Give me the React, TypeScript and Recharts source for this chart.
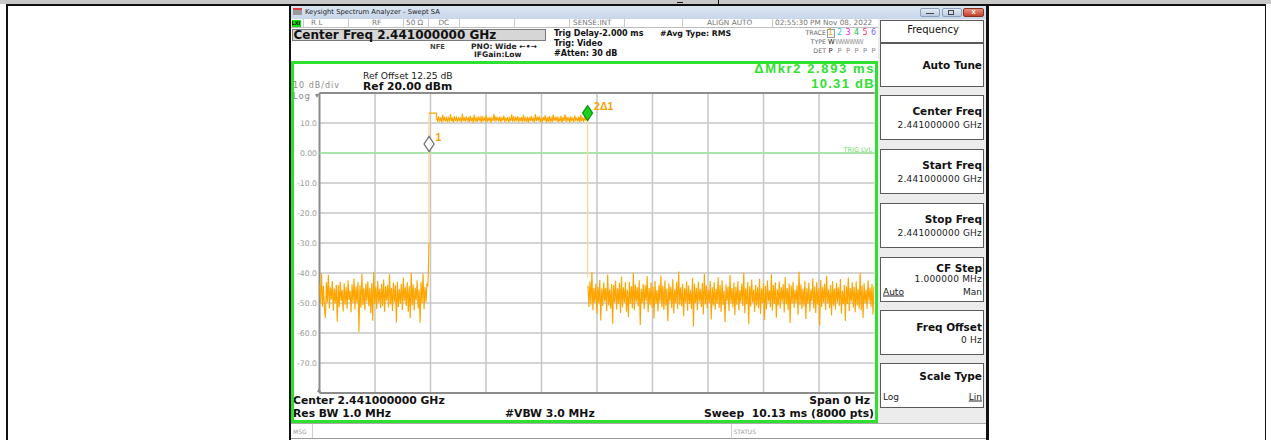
import React from "react";
import { LineChart, Line, XAxis, YAxis, CartesianGrid, ReferenceLine, ReferenceDot } from "recharts";

// ---------------- data ----------------
const SAMPLE_MS = 0.018;
const SWEEP_MS = 10.13;
const LEFT_START = 0;
const PLATEAU_START = 2.14;
const RIGHT_START = 4.9;

const LEFT_NOISE = [
  -43.6, -50.4, -40.1, -51.2, -44.3, -52.0, -54.9, -43.1, -49.7, -40.6,
  -51.8, -44.8, -48.9, -42.7, -52.6, -45.2, -50.1, -43.9, -56.2, -44.0,
  -51.4, -42.9, -49.3, -45.6, -52.8, -43.4, -50.6, -44.7, -51.9, -42.5,
  -49.0, -45.9, -53.1, -43.8, -50.0, -41.8, -52.2, -44.5, -49.8, -43.0,
  -59.6, -44.2, -51.6, -40.3, -50.7, -45.1, -52.4, -43.5, -49.5, -42.8,
  -51.1, -44.9, -53.4, -43.3, -55.9, -39.6, -50.3, -44.6, -52.0, -42.6,
  -49.9, -45.3, -51.7, -43.7, -50.9, -42.2, -52.9, -44.4, -49.2, -43.9,
  -51.5, -40.4, -50.5, -45.0, -52.7, -43.2, -49.6, -44.1, -56.5, -42.9,
  -51.3, -45.4, -50.2, -43.6, -52.3, -41.5, -49.4, -44.8, -51.0, -43.1,
  -53.0, -44.3, -55.1, -39.9, -50.8, -43.8, -52.5, -44.9, -49.1, -42.4,
  -51.8, -45.5, -56.6, -43.0, -50.0, -40.2, -52.1, -44.7, -49.7, -43.4,
];
const LEFT_TAIL: [number, number][] = [[1.978, -44.5], [1.988, -39.5], [1.997, -30]];
const OVERSHOOT: [number, number][] = [[1.9975, 13.3], [2.135, 13.3], [2.137, 11.2]];

const PLATEAU = [
  11.9, 10.4, 12.2, 10.7, 11.6, 10.2, 12.7, 10.9, 11.8, 10.5,
  12.1, 10.3, 11.7, 10.8, 12.9, 10.6, 11.5, 10.1, 12.3, 10.7,
  11.8, 10.4, 12.0, 10.9, 11.6, 10.2, 13.1, 10.6, 11.9, 10.5,
  12.2, 10.8, 11.7, 10.3, 12.4, 10.6, 11.8, 10.1, 12.8, 10.7,
  11.6, 10.4, 12.1, 10.9, 11.9, 10.2, 12.3, 10.5, 11.7, 10.8,
  12.6, 10.3, 11.8, 10.6, 12.0, 10.1, 11.6, 10.7, 13.0, 10.4,
  12.2, 10.9, 11.7, 10.5, 12.1, 10.2, 11.9, 10.8, 12.5, 10.3,
  11.8, 10.6, 12.0, 10.1, 11.6, 10.7, 12.9, 10.4, 12.2, 10.5,
  11.7, 10.9, 12.3, 10.2, 11.8, 10.6, 12.0, 10.3, 12.7, 10.8,
  11.6, 10.4, 12.1, 10.1, 11.9, 10.7, 12.4, 10.5, 11.7, 10.2,
  13.0, 10.6, 11.8, 10.9, 12.2, 10.3, 11.6, 10.5, 12.0, 10.8,
  12.6, 10.1, 11.9, 10.4, 12.3, 10.7, 11.7, 10.2, 12.8, 10.6,
  11.8, 10.9, 12.1, 10.3, 11.6, 10.5, 12.4, 10.1, 11.9, 10.7,
  12.9, 10.4, 12.0, 10.8, 11.7, 10.2, 12.2, 10.6, 11.8, 10.3,
  12.5, 10.9, 11.6, 10.5, 12.1, 10.2, 12.7, 10.6, 11.9, 10.4,
  12.3, 10.8, 12.0,
];
const PLATEAU_TAIL: [number, number][] = [[4.89, 11.9]];

const RIGHT_NOISE = [
  -44.2, -51.3, -42.8, -50.6, -39.7, -52.4, -45.0, -49.8, -43.5, -53.6,
  -44.6, -50.1, -42.3, -55.8, -45.2, -51.0, -43.1, -49.5, -44.9, -52.7,
  -40.5, -50.8, -45.4, -51.9, -43.7, -56.9, -44.0, -49.7, -42.6, -52.2,
  -45.1, -50.4, -43.3, -53.3, -41.2, -51.5, -44.8, -49.9, -43.0, -52.9,
  -45.6, -54.7, -42.9, -50.3, -44.4, -51.8, -39.9, -52.5, -43.8, -49.6,
  -44.7, -51.2, -42.4, -57.3, -45.3, -50.0, -43.6, -52.1, -44.1, -49.4,
  -41.0, -53.1, -45.0, -50.7, -43.2, -51.6, -44.5, -55.2, -42.7, -50.2,
  -45.7, -52.8, -43.9, -49.8, -40.8, -51.4, -44.3, -52.3, -42.5, -50.9,
  -45.2, -56.1, -43.4, -49.5, -44.6, -51.7, -42.1, -53.5, -45.5, -50.1,
  -43.0, -52.0, -39.5, -50.6, -44.8, -51.1, -43.7, -54.4, -45.1, -49.7,
  -42.8, -52.6, -44.2, -50.3, -45.8, -51.9, -41.6, -57.8, -43.5, -50.0,
  -44.9, -52.4, -42.9, -49.6, -45.4, -51.3, -43.3, -53.8, -40.2, -50.5,
  -44.1, -51.8, -45.6, -49.9, -42.6, -55.5, -44.7, -50.8, -43.1, -52.2,
  -45.3, -50.2, -41.4, -51.6, -44.0, -53.0, -42.4, -50.7, -45.9, -56.4,
  -43.8, -49.4, -44.5, -52.7, -40.7, -50.1, -45.0, -51.5, -43.2, -54.1,
  -44.6, -50.6, -42.7, -52.5, -45.7, -49.8, -43.6, -51.0, -39.8, -53.4,
  -45.1, -50.4, -43.0, -57.0, -44.4, -51.2, -42.2, -49.7, -45.5, -52.9,
  -43.9, -50.9, -44.8, -51.7, -41.9, -53.7, -45.2, -50.0, -43.4, -55.6,
  -44.3, -52.1, -42.5, -49.5, -45.8, -51.4, -40.4, -52.6, -44.0, -50.3,
  -43.1, -54.9, -45.4, -50.8, -42.8, -51.9, -44.7, -49.6, -43.7, -53.2,
  -41.3, -50.5, -45.0, -52.3, -43.5, -56.7, -44.2, -50.1, -42.9, -51.6,
  -45.6, -49.9, -44.1, -53.9, -39.6, -50.7, -43.8, -52.0, -45.3, -51.1,
  -42.6, -55.3, -44.9, -50.2, -43.2, -52.8, -45.7, -49.4, -41.8, -51.8,
  -44.5, -53.3, -43.0, -50.6, -45.1, -57.5, -42.3, -51.3, -44.6, -49.8,
  -43.6, -52.4, -40.9, -50.0, -45.5, -51.7, -44.0, -54.2, -42.7, -50.9,
  -45.2, -52.2, -43.3, -49.7, -44.8, -51.0, -42.0, -53.6, -45.9, -50.4,
  -43.9, -56.0, -44.4, -50.3, -41.5, -52.7, -45.0, -49.5, -43.1, -51.5,
  -44.7, -53.1, -42.8, -50.8, -45.4, -51.9, -39.9, -52.5, -44.2, -55.0,
  -43.4, -50.1, -45.6, -52.0, -42.4, -49.6, -44.9, -51.2, -43.7, -53.8,
  -44.5,
];

const EDGE_RISE: [number, number][] = [[1.997, -30], [1.9975, 13.3]];
const EDGE_FALL: [number, number][] = [[4.893, 11.9], [4.894, -41.5]];

const Y_TICKS = [10, 0, -10, -20, -30, -40, -50, -60, -70];
const Y_LABELS = ["10.0", "0.00", "-10.0", "-20.0", "-30.0", "-40.0", "-50.0", "-60.0", "-70.0"];
const X_DIVS = [1.013, 2.026, 3.039, 4.052, 5.065, 6.078, 7.091, 8.104, 9.117];
const MARKER_1 = { t: 2.0, v: 3.0, label: "1" };
const MARKER_2 = { t: 4.893, v: 13.31, label: "2\u03941" };

// ---------------- build series ----------------
type P = { t: number; v: number | null };
const pairs = (a: [number, number][]): P[] => a.map(([t, v]) => ({ t, v }));
const MAIN: P[] = [
  ...LEFT_NOISE.map((v, i) => ({ t: LEFT_START + i * SAMPLE_MS, v })),
  ...pairs(LEFT_TAIL),
  { t: 1.9972, v: null },
  ...pairs(OVERSHOOT),
  ...PLATEAU.map((v, i) => ({ t: PLATEAU_START + i * SAMPLE_MS, v })),
  ...pairs(PLATEAU_TAIL),
  { t: 4.895, v: null },
  ...RIGHT_NOISE.map((v, i) => ({ t: RIGHT_START + i * SAMPLE_MS, v })),
];
const RISE = pairs(EDGE_RISE);
const FALL = pairs(EDGE_FALL);

// ---------------- helpers ----------------
const DV = '"DejaVu Sans", sans-serif';
const LS = '"Liberation Sans", Arial, sans-serif';

type TP = {
  x: number; y: number; s: number; b?: boolean; c?: string; a?: "start" | "end" | "middle";
  f?: string; ls?: number; u?: boolean; children: React.ReactNode;
};
const T = ({ x, y, s, b, c = "#111", a = "start", f = DV, ls, u, children }: TP) => (
  <div
    style={{
      position: "absolute", left: x, top: y, fontSize: s, fontWeight: b ? "bold" : "normal",
      color: c, fontFamily: f, whiteSpace: "nowrap", lineHeight: 1, letterSpacing: ls,
      textDecoration: u ? "underline" : "none",
      transform: `translate(${a === "end" ? "-100%" : a === "middle" ? "-50%" : "0"}, -50%)`,
    }}
  >
    {children}
  </div>
);
const R = ({ x, y, w, h, bg, st }: { x: number; y: number; w: number; h: number; bg?: string; st?: React.CSSProperties }) => (
  <div style={{ position: "absolute", left: x, top: y, width: w, height: h, background: bg, boxSizing: "border-box", ...st }} />
);

const Diamond = (props: any) => {
  const { cx, cy, fill, stroke, label } = props;
  if (cx == null || cy == null) return null;
  return (
    <g>
      <polygon points={`${cx},${cy - 7.5} ${cx + 5},${cy} ${cx},${cy + 7.5} ${cx - 5},${cy}`} fill={fill} stroke={stroke} strokeWidth={1.3} />
      <text x={cx + 6.5} y={cy - 6} fill="#f5a000" fontSize={10.5} fontFamily={LS} fontWeight="bold" dominantBaseline="middle">
        {label}
      </text>
    </g>
  );
};

const YTick = (props: any) => {
  const { x, y, payload } = props;
  const i = Y_TICKS.indexOf(payload.value);
  return (
    <text x={x} y={y} textAnchor="end" dominantBaseline="central" fill="#9a9a9a" fontSize={7.7} fontFamily={DV}>
      {Y_LABELS[i]}
    </text>
  );
};

const SOFTKEYS = [
  { top: 95, label: "Center Freq", ly: 16, value: "2.441000000 GHz", vy: 30 },
  { top: 149, label: "Start Freq", ly: 16, value: "2.441000000 GHz", vy: 30 },
  { top: 203, label: "Stop Freq", ly: 16, value: "2.441000000 GHz", vy: 30 },
  { top: 257, label: "CF Step", ly: 11, value: "1.000000 MHz", vy: 22 },
  { top: 310, label: "Freq Offset", ly: 17, value: "0 Hz", vy: 30 },
  { top: 363, label: "Scale Type", ly: 13, value: "", vy: 0 },
];

const TRACE_NUMS = [
  { n: "1", c: "#f5a000", x: 829 },
  { n: "2", c: "#20c8f0", x: 838 },
  { n: "3", c: "#f020f0", x: 846.5 },
  { n: "4", c: "#20c840", x: 855 },
  { n: "5", c: "#ff3366", x: 863.5 },
  { n: "6", c: "#7a66ff", x: 872 },
];

const GREEN = "#2fe02f";

export default function App() {
  return (
    <div style={{ position: "absolute", left: 0, top: 0, width: 1271, height: 440, background: "#fff", overflow: "hidden", fontFamily: DV }}>
      {/* document table lines */}
      <R x={0} y={0} w={1271} h={4} bg="#c8c8c8" />
      <R x={677} y={1.5} w={6} h={1.5} bg="#111" />
      <R x={717.5} y={0} w={1.5} h={4} bg="#111" />
      <R x={6} y={4} w={1260} h={1.5} bg="#111" />
      <R x={6} y={4} w={1.5} h={436} bg="#111" />
      <R x={1264.5} y={4} w={1.5} h={436} bg="#111" />

      {/* screenshot black frame */}
      <R x={288.5} y={4} w={2.5} h={436} bg="#111" />
      <R x={985.5} y={4} w={3} h={436} bg="#111" />

      {/* title bar */}
      <R x={291} y={5.5} w={694.5} h={13} bg="linear-gradient(#dce6f3, #c7d6ea)" />
      <R x={292.5} y={8} w={9} h={7} bg="#9a9a9a" st={{ borderTop: "2px solid #d84040" }} />
      <T x={305} y={12.2} s={6.8} c="#222">Keysight Spectrum Analyzer - Swept SA</T>
      <R x={920} y={7.5} w={20} h={9} bg="linear-gradient(#e4ecf6,#b9cbe2)" st={{ border: "1px solid #8aa0bd", borderRadius: 2 }} />
      <R x={926} y={12.5} w={8} h={1.5} bg="#444" />
      <R x={941.5} y={7.5} w={20} h={9} bg="linear-gradient(#e4ecf6,#b9cbe2)" st={{ border: "1px solid #8aa0bd", borderRadius: 2 }} />
      <R x={948} y={9.5} w={6} h={5} st={{ border: "1px solid #444" }} />
      <R x={963} y={7.5} w={21} h={9} bg="linear-gradient(#e8907f,#c4402e)" st={{ border: "1px solid #8a3020", borderRadius: 2 }} />
      <T x={973.5} y={11.8} s={7.5} b c="#fff" a="middle" f={LS}>x</T>

      {/* status row */}
      <R x={291} y={18.5} w={586.5} h={9.5} bg="#fff" st={{ borderBottom: "1px solid #bdbdbd" }} />
      <R x={291.5} y={19.5} w={9} h={7.5} bg="#11dd11" />
      <T x={296} y={23.3} s={5} b c="#111" a="middle">LXI</T>
      {[303, 348, 403, 427.5, 459, 513.5, 569, 624, 682, 772].map((x) => (
        <R key={x} x={x} y={18.5} w={1} h={9.5} bg="#c8c8c8" />
      ))}
      <T x={311} y={23.3} s={7.3} c="#777">R L</T>
      <T x={372} y={23.3} s={7.3} c="#777">RF</T>
      <T x={406} y={23.3} s={7.3} c="#777">50 Ω</T>
      <T x={438.5} y={23.3} s={7.3} c="#777">DC</T>
      <T x={573} y={23.3} s={7.3} c="#777">SENSE:INT</T>
      <T x={707} y={23.3} s={7.3} c="#777">ALIGN AUTO</T>
      <T x={775} y={23.3} s={7.3} c="#777">02:55:30 PM Nov 08, 2022</T>

      {/* header info */}
      <R x={292} y={28.5} w={254} h={12} bg="#d6d6d6" st={{ border: "1px solid #7a7a7a" }} />
      <T x={293.5} y={34.6} s={12} b c="#111">Center Freq 2.441000000 GHz</T>
      <T x={430} y={47} s={6.8} b c="#444">NFE</T>
      <T x={471} y={47} s={7.6} b c="#222">PNO: Wide ←•→</T>
      <T x={474} y={54.5} s={7.6} b c="#222">IFGain:Low</T>
      <T x={554} y={33.5} s={8} b c="#111">Trig Delay-2.000 ms</T>
      <T x={554} y={43.5} s={8} b c="#111">Trig: Video</T>
      <T x={554} y={54} s={8} b c="#111">#Atten: 30 dB</T>
      <T x={660} y={33.5} s={7.8} b c="#111">#Avg Type: RMS</T>
      <T x={826} y={33} s={6.3} c="#666" a="end">TRACE</T>
      <T x={826} y={42} s={6.3} c="#666" a="end">TYPE</T>
      <T x={826} y={50.5} s={6.3} c="#666" a="end">DET</T>
      <R x={826.5} y={29} w={8} h={8.5} st={{ border: "1px solid #999" }} />
      {TRACE_NUMS.map((d) => (
        <T key={d.n} x={d.x + 1.5} y={33.3} s={8} c={d.c} a="middle">{d.n}</T>
      ))}
      <T x={828} y={42.2} s={6.8} c="#222">W</T>
      <T x={835} y={42.2} s={6.8} c="#999" ls={-1.2}>WWWWW</T>
      {TRACE_NUMS.map((d) => (
        <T key={"p" + d.n} x={d.x + 1.5} y={50.5} s={6.8} c={d.n === "1" ? "#222" : "#888"} a="middle">P</T>
      ))}

      {/* softkey panel */}
      <R x={877.5} y={18.5} w={108} h={405} bg="#ececec" />
      <R x={880} y={20} w={104} h={23} bg="#fff" st={{ border: "1.5px solid #5a5a5a" }} />
      <T x={933} y={30} s={10} c="#111" a="middle">Frequency</T>
      <R x={880} y={43} w={104} h={44} bg="#fff" st={{ border: "1.5px solid #5a5a5a" }} />
      <T x={982} y={65} s={10.5} b c="#111" a="end">Auto Tune</T>
      {SOFTKEYS.map((k) => (
        <React.Fragment key={k.label}>
          <R x={880} y={k.top} w={104} h={45} bg="#fff" st={{ border: "1.5px solid #5a5a5a" }} />
          <T x={982} y={k.top + k.ly} s={10.5} b c="#111" a="end">{k.label}</T>
          {k.value ? <T x={982} y={k.top + k.vy} s={9} c="#222" a="end" ls={0.2}>{k.value}</T> : null}
        </React.Fragment>
      ))}
      <T x={883} y={292} s={9} c="#222" u>Auto</T>
      <T x={982} y={292} s={9} c="#222" a="end">Man</T>
      <T x={883} y={397} s={9} c="#222">Log</T>
      <T x={982} y={397} s={9} c="#222" a="end" u>Lin</T>

      {/* message row */}
      <R x={291} y={423} w={694.5} h={15.5} bg="#fff" st={{ borderBottom: "1px solid #9a9a9a", borderTop: "1px solid #aaa" }} />
      <R x={312} y={424} w={1} h={14} bg="#cfcfcf" />
      <R x={731} y={424} w={1} h={14} bg="#cfcfcf" />
      <T x={293} y={431.5} s={6} c="#999">MSG</T>
      <T x={733.5} y={431.5} s={6} c="#999">STATUS</T>

      {/* graph frame contents */}
      <R x={291} y={61} w={586.5} h={362} bg="#fff" />
      <T x={363} y={76} s={9.2} c="#222">Ref Offset 12.25 dB</T>
      <T x={363} y={87} s={10.8} b c="#111">Ref 20.00 dBm</T>
      <T x={293} y={86.3} s={8} c="#8a8a8a" ls={1}>10 dB/div</T>
      <T x={293} y={95.6} s={8.5} c="#8a8a8a" ls={0.8}>Log</T>
      <R x={314.5} y={94} w={0} h={0} st={{ borderLeft: "2.5px solid transparent", borderRight: "2.5px solid transparent", borderTop: "4px solid #888" }} />
      <R x={316.5} y={387.5} w={0} h={0} st={{ borderLeft: "2.5px solid transparent", borderRight: "2.5px solid transparent", borderBottom: "4px solid #888" }} />
      <T x={875} y={67.5} s={13} b c={GREEN} a="end" f={LS} ls={1.6}>ΔMkr2 2.893 ms</T>
      <T x={875} y={82.6} s={13} b c={GREEN} a="end" f={LS} ls={1.3}>10.31 dB</T>
      <T x={293} y={400.5} s={10.8} b c="#111">Center 2.441000000 GHz</T>
      <T x={293} y={413.5} s={10.8} b c="#111">Res BW 1.0 MHz</T>
      <T x={505} y={413.5} s={10.8} b c="#111">#VBW 3.0 MHz</T>
      <T x={870} y={400.5} s={10.8} b c="#111" a="end">Span 0 Hz</T>
      <T x={874} y={413.5} s={10.8} b c="#111" a="end">{"Sweep\u00a0\u00a010.13 ms (8000 pts)"}</T>

      <div style={{ position: "absolute", left: 290, top: 88 }}>
        <LineChart width={590} height={310} margin={{ top: 5, right: 5.5, bottom: 5, left: 0 }}>
          <CartesianGrid stroke="#c6c6c6" strokeWidth={1.3} vertical={false} />
          <XAxis type="number" dataKey="t" domain={[0, SWEEP_MS]} ticks={X_DIVS} height={0} tick={false} axisLine={false} tickLine={false} allowDataOverflow />
          <YAxis type="number" domain={[-80, 20]} ticks={Y_TICKS} width={29.5} axisLine={false} tickLine={false} tickSize={0} tickMargin={2.5} tick={<YTick />} interval={0} allowDataOverflow />
          {X_DIVS.map((x) => (
            <ReferenceLine key={x} x={x} stroke="#c6c6c6" strokeWidth={1.5} />
          ))}
          <ReferenceLine y={20} stroke="#8c8c8c" strokeWidth={2} />
          <ReferenceLine y={-80} stroke="#8c8c8c" strokeWidth={2} />
          <ReferenceLine x={0} stroke="#8c8c8c" strokeWidth={2} />
          <ReferenceLine y={0} stroke="#9ee89e" strokeWidth={1.5} />
          <Line data={RISE} dataKey="v" stroke="#ffd59c" strokeWidth={1.3} dot={false} isAnimationActive={false} />
          <Line data={FALL} dataKey="v" stroke="#ffd59c" strokeWidth={1.3} dot={false} isAnimationActive={false} />
          <Line data={MAIN} dataKey="v" stroke="#ffa500" strokeWidth={1.15} dot={false} isAnimationActive={false} connectNulls={false} />
          <ReferenceDot x={MARKER_1.t} y={MARKER_1.v} r={5} shape={(p: any) => <Diamond {...p} fill="#fff" stroke="#707070" label={MARKER_1.label} />} />
          <ReferenceDot x={MARKER_2.t} y={MARKER_2.v} r={5} shape={(p: any) => <Diamond {...p} fill="#1ed01e" stroke="#119911" label={MARKER_2.label} />} />
        </LineChart>
      </div>
      <T x={872} y={149.5} s={6.5} c="#6fdc6f" a="end">TRIG LVL</T>

      {/* green frame */}
      <div style={{ position: "absolute", left: 290.5, top: 61, width: 587, height: 362, border: `3px solid ${GREEN}`, boxSizing: "border-box", pointerEvents: "none" }} />
    </div>
  );
}
